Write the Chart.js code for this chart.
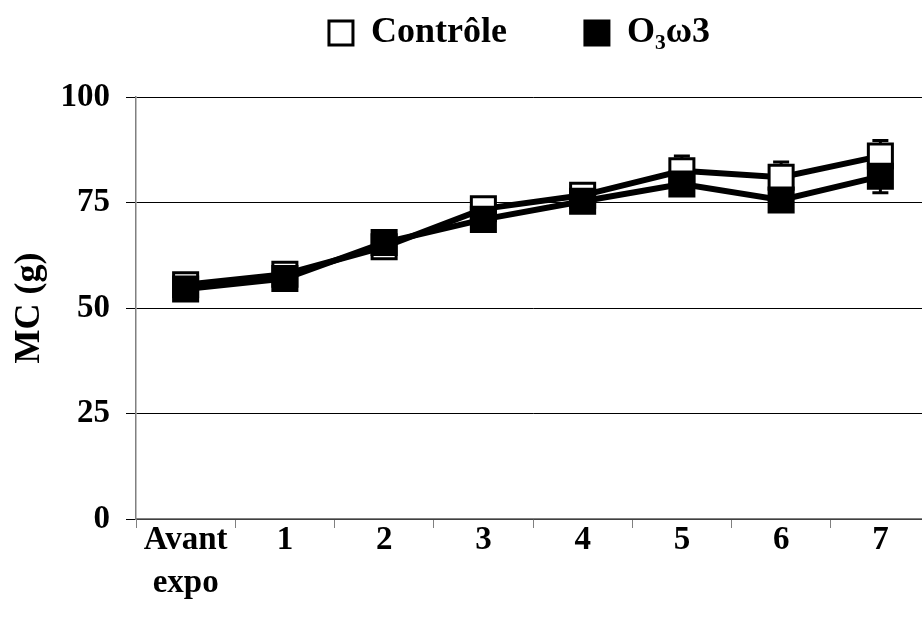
<!DOCTYPE html>
<html>
<head>
<meta charset="utf-8">
<script src="https://cdn.jsdelivr.net/npm/chart.js@4.4.1/dist/chart.umd.min.js"></script>
<style>
  html, body { margin: 0; padding: 0; background: #fff; overflow: hidden; }
  #wrap { width: 950px; height: 626px; }
</style>
</head>
<body>
<div id="wrap"><canvas id="mcChart" width="950" height="626"></canvas></div>
<script>
// DATA
const weekLabels = [['Avant', 'expo'], '1', '2', '3', '4', '5', '6', '7'];
const controleValues = [55.5, 58, 64.5, 73.5, 76.7, 82.5, 81, 86];
const controleSd = [1.5, 1.5, 2.5, 2, 2, 3.5, 3.6, 3.7];
const o3w3Values = [54.5, 57, 65.5, 71, 75.3, 79.4, 75.6, 81.2];
const o3w3Sd = [1.5, 1.5, 2, 2, 2, 2.5, 2.5, 3.9];
const yTicks = [0, 25, 50, 75, 100];

const serif = '"Liberation Serif", "Times New Roman", serif';

// error bars, drawn under the markers
const errorBars = {
    id: 'errorBars',
    beforeDatasetsDraw(chart) {
        const ctx = chart.ctx;
        const yScale = chart.scales.y;
        chart.data.datasets.forEach((ds, i) => {
            const meta = chart.getDatasetMeta(i);
            ctx.save();
            ctx.strokeStyle = '#000';
            ctx.lineWidth = 3;
            meta.data.forEach((pt, j) => {
                const v = ds.data[j];
                const sd = ds.sd[j];
                const yTop = yScale.getPixelForValue(v + sd);
                const yBot = yScale.getPixelForValue(v - sd);
                ctx.beginPath();
                ctx.moveTo(pt.x, yTop);
                ctx.lineTo(pt.x, yBot);
                ctx.moveTo(pt.x - 8, yTop);
                ctx.lineTo(pt.x + 8, yTop);
                ctx.moveTo(pt.x - 8, yBot);
                ctx.lineTo(pt.x + 8, yBot);
                ctx.stroke();
            });
            ctx.restore();
        });
    }
};

const ctx = document.getElementById('mcChart').getContext('2d');
const chart = new Chart(ctx, {
    type: 'line',
    data: {
        labels: weekLabels,
        datasets: [{
            label: 'Contrôle',
            data: controleValues,
            sd: controleSd,
            order: 1,
            borderColor: '#000',
            borderWidth: 6,
            tension: 0,
            pointStyle: 'rect',
            pointRadius: 17,
            pointBackgroundColor: '#fff',
            pointBorderColor: '#000',
            pointBorderWidth: 3
        }, {
            label: 'O₃ω3',
            data: o3w3Values,
            sd: o3w3Sd,
            order: 0,
            borderColor: '#000',
            borderWidth: 6,
            tension: 0,
            pointStyle: 'rect',
            pointRadius: 17,
            pointBackgroundColor: '#000',
            pointBorderColor: '#000',
            pointBorderWidth: 3
        }]
    },
    options: {
        responsive: false,
        animation: false,
        layout: { padding: { left: 0, right: 2, top: 0, bottom: 0 } },
        plugins: {
            tooltip: { enabled: false },
            // empty title used as a spacer between legend and plot
            title: {
                display: true,
                text: '',
                weight: 500,
                font: { size: 1, lineHeight: 1 },
                padding: { top: 0, bottom: 35 }
            },
            legend: {
                position: 'top',
                fullSize: false,
                labels: {
                    padding: 15,
                    boxWidth: 24,
                    boxHeight: 24,
                    color: '#000',
                    font: { family: serif, size: 36, weight: 'bold' },
                    generateLabels: (c) => [
                        { text: 'Contrôle       ', fillStyle: '#fff', strokeStyle: '#000', lineWidth: 3, datasetIndex: 0 },
                        { text: 'O₃ω3   ', fillStyle: '#000', strokeStyle: '#000', lineWidth: 3, datasetIndex: 1 }
                    ]
                }
            }
        },
        scales: {
            x: {
                offset: true,
                grid: {
                    offset: true,
                    drawOnChartArea: false,
                    drawTicks: true,
                    tickLength: 9,
                    color: '#808080'
                },
                border: { color: '#808080', width: 1.5 },
                ticks: {
                    color: '#000',
                    padding: -9,
                    maxRotation: 0,
                    autoSkip: false,
                    font: { family: serif, size: 33, weight: 'bold', lineHeight: 1.3 }
                },
                afterFit: (scale) => { scale.height = 107; }
            },
            y: {
                min: 0,
                max: 100,
                afterBuildTicks: (scale) => { scale.ticks = yTicks.map(v => ({ value: v })); },
                grid: {
                    color: '#000',
                    lineWidth: 1,
                    tickLength: 10
                },
                border: { color: '#808080', width: 1.5 },
                ticks: {
                    color: '#000',
                    padding: 16,
                    font: { family: serif, size: 33, weight: 'bold' }
                },
                title: {
                    display: true,
                    text: 'MC (g)',
                    color: '#000',
                    padding: { top: 8, bottom: 0 },
                    font: { family: serif, size: 36, weight: 'bold' }
                },
                afterFit: (scale) => { scale.width = 136; }
            }
        }
    },
    plugins: [errorBars]
});
</script>
</body>
</html>
